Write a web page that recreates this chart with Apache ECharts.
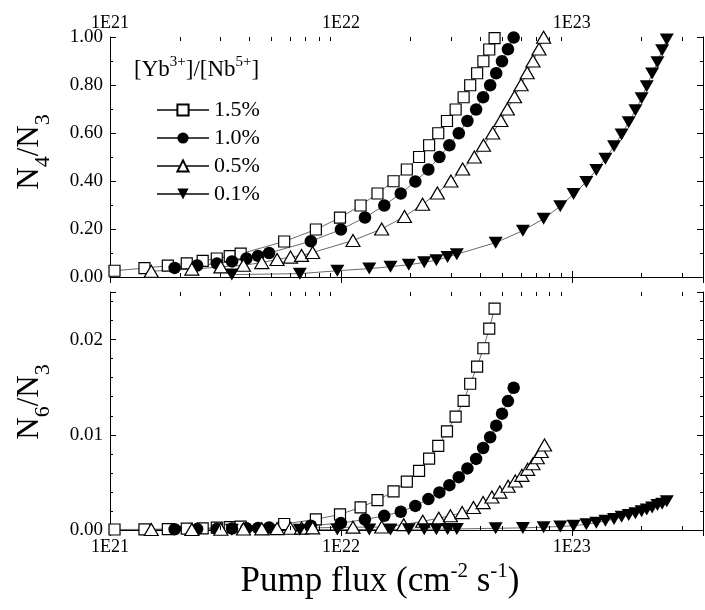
<!DOCTYPE html>
<html><head><meta charset="utf-8">
<script src="https://cdn.jsdelivr.net/npm/echarts@6/dist/echarts.min.js"></script>
<style>html,body{margin:0;padding:0;background:#fff}#c{width:705px;height:610px}</style>
</head><body><div id="c"></div>
<script>
// ---- data ----
const seriesNames = ['1.5%', '1.0%', '0.5%', '0.1%'];
const xTickLabels = ['1E21', '1E22', '1E23'];
const xMinorTicks = [2e21,3e21,4e21,5e21,6e21,7e21,8e21,9e21,2e22,3e22,4e22,5e22,6e22,7e22,8e22,9e22,2e23,3e23];

const flux15 = [1.046e21,1.41e21,1.78e21,2.15e21,2.52e21,2.9e21,3.3e21,3.68e21,5.68e21,7.79e21,9.91e21,1.217e22,1.44e22,1.69e22,1.93e22,2.18e22,2.41e22,2.64e22,2.88e22,3.14e22,3.40e22,3.63e22,3.89e22,4.14e22,4.39e22,4.63e22];
const n4_15 = [0.026,0.037,0.047,0.057,0.067,0.077,0.087,0.097,0.148,0.198,0.247,0.298,0.348,0.399,0.448,0.5,0.549,0.599,0.65,0.698,0.749,0.799,0.849,0.899,0.948,0.995];
const n6_15 = [0.00005,0.00007,0.0001,0.00014,0.00018,0.00024,0.0003,0.00035,0.00063,0.00112,0.00164,0.00238,0.00314,0.00405,0.00508,0.00621,0.0075,0.00883,0.01037,0.0119,0.01356,0.01536,0.01717,0.01909,0.02115,0.02325];

const flux10 = [1.905e21,2.385e21,2.905e21,3.376e21,3.898e21,4.377e21,4.887e21,7.41e21,1.0e22,1.271e22,1.541e22,1.816e22,2.101e22,2.392e22,2.67e22,2.95e22,3.24e22,3.531e22,3.852e22,4.13e22,4.43e22,4.705e22,4.985e22,5.29e22,5.6e22];
const n4_10 = [0.038,0.048,0.056,0.065,0.077,0.088,0.1,0.149,0.198,0.248,0.298,0.348,0.398,0.448,0.5,0.549,0.599,0.65,0.698,0.749,0.799,0.849,0.899,0.949,0.998];
const n6_10 = [0.00008,0.0001,0.00012,0.00015,0.00018,0.00022,0.00026,0.00045,0.00073,0.0011,0.00149,0.00192,0.00253,0.00325,0.00395,0.00471,0.00555,0.00647,0.00747,0.00861,0.00974,0.01096,0.01222,0.01354,0.01494];

const flux05 = [1.509e21,2.262e21,3.021e21,3.784e21,4.543e21,5.292e21,6.05e21,6.753e21,7.545e21,1.128e22,1.502e22,1.886e22,2.258e22,2.617e22,2.995e22,3.367e22,3.784e22,4.145e22,4.544e22,4.93e22,5.26e22,5.65e22,6.03e22,6.41e22,6.79e22,7.21e22,7.55e22];
const n4_05 = [0.024,0.033,0.042,0.049,0.06,0.073,0.083,0.09,0.102,0.152,0.2,0.252,0.303,0.35,0.4,0.45,0.5,0.549,0.6,0.652,0.7,0.751,0.801,0.851,0.9,0.95,0.999];
const flux05b = [1.509e21,2.262e21,3.021e21,3.784e21,4.543e21,5.292e21,6.05e21,6.753e21,7.545e21,1.128e22,1.502e22,1.871e22,2.262e22,2.654e22,2.98e22,3.35e22,3.75e22,4.13e22,4.507e22,4.88e22,5.30e22,5.69e22,6.08e22,6.44e22,6.79e22,7.09e22,7.37e22,7.62e22];
const n6_05 = [0.00005,0.00005,0.00008,0.0001,0.00012,0.00015,0.00018,0.0002,0.00022,0.0003,0.00031,0.00056,0.00092,0.00123,0.0015,0.00183,0.00236,0.00288,0.00346,0.00398,0.00459,0.00515,0.00574,0.00637,0.00696,0.00759,0.00824,0.00893];

const flux01 = [3.37e21,6.64e21,9.65e21,1.327e22,1.64e22,1.968e22,2.296e22,2.591e22,2.897e22,3.177e22,4.68e22,6.14e22,7.55e22,8.915e22,1.018e23,1.156e23,1.277e23,1.398e23,1.524e23,1.643e23,1.764e23,1.886e23,2.006e23,2.111e23,2.228e23,2.349e23,2.462e23,2.578e23];
const n4_01 = [0.01,0.014,0.026,0.035,0.043,0.051,0.061,0.07,0.083,0.095,0.143,0.193,0.243,0.295,0.346,0.396,0.446,0.493,0.545,0.594,0.645,0.695,0.745,0.795,0.848,0.895,0.945,0.99];
const n6_01 = [0.00002,0.00003,0.00004,0.00005,0.00006,0.00007,0.00008,0.00009,0.0001,0.00011,0.00018,0.00022,0.0003,0.00037,0.00045,0.0006,0.00076,0.00097,0.00115,0.00138,0.00157,0.00175,0.00197,0.00215,0.00236,0.00262,0.00277,0.00302];

const xMin = 1e21, xMax = 3.7e23;
const yTopMax = 1.0, yBotMax = 0.025;

// ---- chart ----
const FONT = 'Liberation Serif';
const BLACK = '#000';
const zip = (xs, ys) => xs.map((x, i) => [x, ys[i]]);

const markers = {
  '1.5%': {symbol: 'rect', symbolSize: 11, itemStyle: {color: '#fff', borderColor: BLACK, borderWidth: 1.2}},
  '1.0%': {symbol: 'circle', symbolSize: 12.5, itemStyle: {color: BLACK, borderColor: BLACK, borderWidth: 0}},
  '0.5%': {symbol: 'triangle', symbolSize: [14, 12], itemStyle: {color: '#fff', borderColor: BLACK, borderWidth: 1.2}},
  '0.1%': {symbol: 'triangle', symbolSize: [14, 12], symbolRotate: 180, itemStyle: {color: BLACK, borderColor: BLACK, borderWidth: 0}}
};
function lineSeries(name, data, xi, yi) {
  const m = markers[name];
  return Object.assign({
    type: 'line', name, data, xAxisIndex: xi, yAxisIndex: yi,
    showSymbol: true, showAllSymbol: true, clip: true,
    lineStyle: {color: '#444', width: 0.8},
    emphasis: {disabled: true}
  }, m);
}
function minorTickSeries(xi, yi, yLo, yHi) {
  return {
    type: 'custom', xAxisIndex: xi, yAxisIndex: yi, silent: true, clip: false, z: 5,
    data: xMinorTicks.map(v => [v, yLo]),
    renderItem(params, api) {
      const v = api.value(0);
      const b = api.coord([v, yLo]), t = api.coord([v, yHi]);
      const x = Math.round(b[0]) + 0.5;
      return {type: 'group', children: [
        {type: 'line', shape: {x1: x, y1: b[1], x2: x, y2: b[1] - 4}, style: {stroke: BLACK, lineWidth: 1}},
        {type: 'line', shape: {x1: x, y1: t[1], x2: x, y2: t[1] + 4}, style: {stroke: BLACK, lineWidth: 1}}
      ]};
    }
  };
}
const logFmt = v => {
  const e = Math.log10(v);
  if (Math.abs(e - Math.round(e)) > 1e-6) return '';
  const lab = '1E' + Math.round(e);
  return xTickLabels.indexOf(lab) >= 0 ? lab : '';
};
const axLine = {show: true, lineStyle: {color: BLACK, width: 1}};
const labStyle = {fontFamily: FONT, fontSize: 18, color: BLACK};
function xAx(gi, pos, showLab) {
  return {
    gridIndex: gi, type: 'log', logBase: 10, min: xMin, max: xMax, position: pos,
    axisLine: axLine, splitLine: {show: false},
    axisTick: {show: true, inside: true, length: 6, lineStyle: {color: BLACK}},
    axisLabel: Object.assign({show: showLab, formatter: logFmt, margin: pos === 'top' ? 5 : 8, showMinLabel: true, showMaxLabel: true}, labStyle)
  };
}
function yAx(gi, pos, max, interval, showLab, opts) {
  return Object.assign({
    gridIndex: gi, type: 'value', min: 0, max, interval, position: pos,
    axisLine: axLine, splitLine: {show: false},
    axisTick: {show: true, inside: true, length: 6, lineStyle: {color: BLACK}},
    axisLabel: Object.assign({show: showLab, margin: 7,
      formatter: v => (Math.abs(v / interval - Math.round(v / interval)) < 1e-6 ? v.toFixed(2) : '')}, labStyle, {fontSize: 19})
  }, opts || {});
}

const option = {
  animation: false,
  backgroundColor: '#fff',
  grid: [
    {left: 110, top: 37, width: 593, height: 240, outerBoundsMode: 'none'},
    {left: 110, top: 292, width: 593, height: 238, outerBoundsMode: 'none'}
  ],
  xAxis: [xAx(0, 'top', true), xAx(0, 'bottom', false), xAx(1, 'bottom', true), xAx(1, 'top', false)],
  yAxis: [
    yAx(0, 'left', yTopMax, 0.2, true, {minorTick: {show: true, splitNumber: 2, length: 3, lineStyle: {color: BLACK}}}),
    yAx(0, 'right', yTopMax, 0.2, false, {minorTick: {show: true, splitNumber: 2, length: 3, lineStyle: {color: BLACK}}}),
    yAx(1, 'left', yBotMax, 0.01, true),
    yAx(1, 'right', yBotMax, 0.01, false),
    yAx(1, 'left', yBotMax, 0.002, false, {axisLine: {show: false}, axisTick: {show: true, inside: true, length: 3, lineStyle: {color: BLACK}}}),
    yAx(1, 'right', yBotMax, 0.002, false, {axisLine: {show: false}, axisTick: {show: true, inside: true, length: 3, lineStyle: {color: BLACK}}})
  ],
  legend: {
    data: seriesNames, orient: 'vertical', left: 151, top: 94,
    itemWidth: 52, itemHeight: 14, itemGap: 6,
    textStyle: {fontFamily: FONT, fontSize: 22, color: BLACK},
    selectedMode: false
  },
  graphic: [
    {type: 'text', left: 134, top: 55, style: {
      text: '{t|[Yb}{s|3+}{t|]/[Nb}{s|5+}{t|]}',
      rich: {t: {fontFamily: FONT, fontSize: 23, lineHeight: 26, verticalAlign: 'bottom', fill: BLACK},
             s: {fontFamily: FONT, fontSize: 15, lineHeight: 15, verticalAlign: 'top', fill: BLACK}}}},
    {type: 'text', x: 30, y: 152, rotation: Math.PI / 2, style: {
      text: '{n|N}{b|4}{n|/N}{b|3}', align: 'center', verticalAlign: 'middle',
      rich: {n: {fontFamily: FONT, fontSize: 31, lineHeight: 31, verticalAlign: 'top', fill: BLACK},
             b: {fontFamily: FONT, fontSize: 22, lineHeight: 22, verticalAlign: 'top', padding: [18, 0, 0, 0], fill: BLACK}}}},
    {type: 'text', x: 30, y: 402, rotation: Math.PI / 2, style: {
      text: '{n|N}{b|6}{n|/N}{b|3}', align: 'center', verticalAlign: 'middle',
      rich: {n: {fontFamily: FONT, fontSize: 31, lineHeight: 31, verticalAlign: 'top', fill: BLACK},
             b: {fontFamily: FONT, fontSize: 22, lineHeight: 22, verticalAlign: 'top', padding: [18, 0, 0, 0], fill: BLACK}}}},
    {type: 'text', x: 380, y: 580, style: {
      text: '{t|Pump flux (cm}{s|-2}{t| s}{s|-1}{t|)}', align: 'center', verticalAlign: 'middle',
      rich: {t: {fontFamily: FONT, fontSize: 35, lineHeight: 38, verticalAlign: 'bottom', fill: BLACK},
             s: {fontFamily: FONT, fontSize: 21, lineHeight: 21, verticalAlign: 'top', fill: BLACK}}}}
  ],
  series: [
    lineSeries('1.5%', zip(flux15, n4_15), 0, 0),
    lineSeries('1.0%', zip(flux10, n4_10), 0, 0),
    lineSeries('0.5%', zip(flux05, n4_05), 0, 0),
    lineSeries('0.1%', zip(flux01, n4_01), 0, 0),
    lineSeries('1.5%', zip(flux15, n6_15), 2, 2),
    lineSeries('1.0%', zip(flux10, n6_10), 2, 2),
    lineSeries('0.5%', zip(flux05b, n6_05), 2, 2),
    lineSeries('0.1%', zip(flux01, n6_01), 2, 2),
    minorTickSeries(0, 0, 0, yTopMax),
    minorTickSeries(2, 2, 0, yBotMax)
  ]
};
const chart = echarts.init(document.getElementById('c'), null, {renderer: 'canvas'});
chart.setOption(option);
</script></body></html>
